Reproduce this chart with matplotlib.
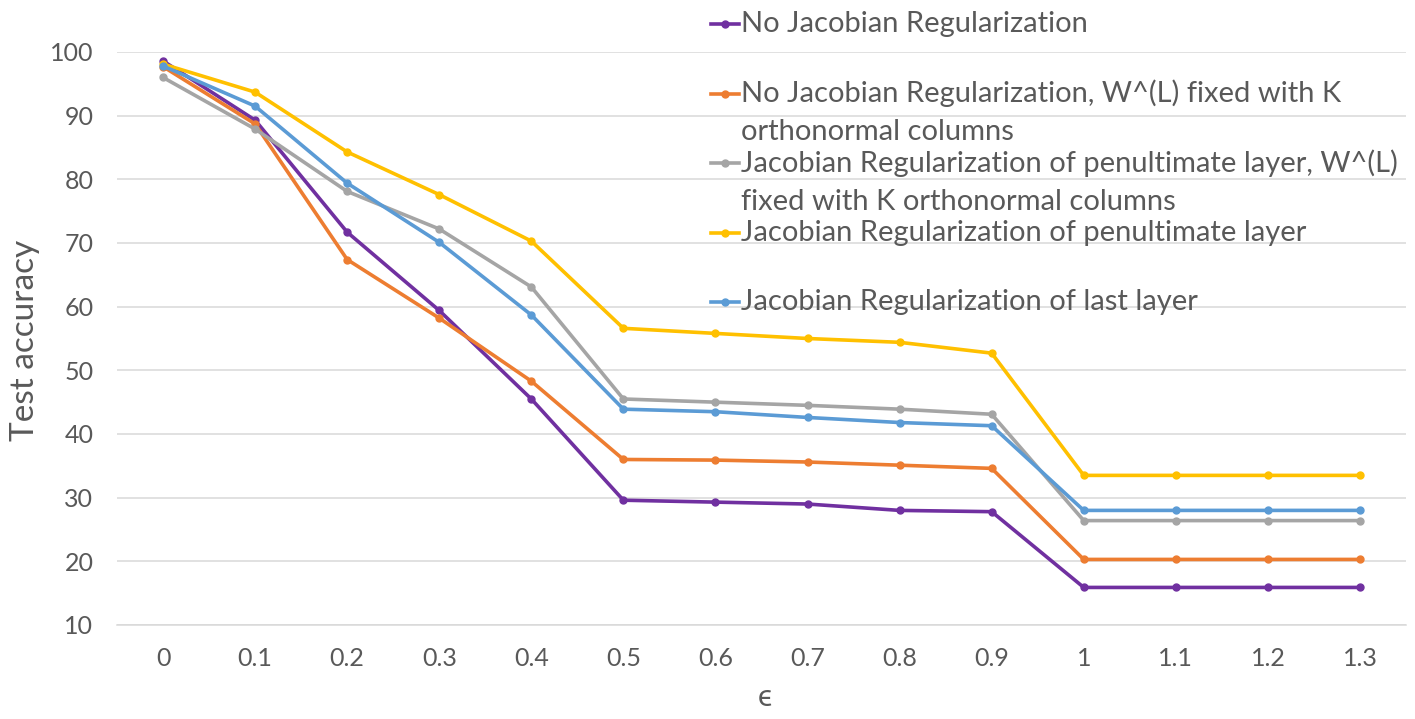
import matplotlib
matplotlib.use('Agg')
import matplotlib.pyplot as plt
from matplotlib.lines import Line2D

eps_labels = ['0', '0.1', '0.2', '0.3', '0.4', '0.5', '0.6', '0.7', '0.8', '0.9', '1', '1.1', '1.2', '1.3']

no_jac = [98.6, 89.3, 71.7, 59.4, 45.5, 29.6, 29.3, 29.0, 28.0, 27.8, 15.9, 15.9, 15.9, 15.9]
no_jac_fixed = [97.7, 88.7, 67.4, 58.2, 48.3, 36.0, 35.9, 35.6, 35.1, 34.6, 20.3, 20.3, 20.3, 20.3]
jac_pen_fixed = [96.0, 87.9, 78.1, 72.2, 63.1, 45.5, 45.0, 44.5, 43.9, 43.1, 26.4, 26.4, 26.4, 26.4]
jac_pen = [98.1, 93.7, 84.3, 77.6, 70.3, 56.6, 55.8, 55.0, 54.4, 52.7, 33.5, 33.5, 33.5, 33.5]
jac_last = [97.8, 91.5, 79.4, 70.1, 58.7, 43.9, 43.5, 42.6, 41.8, 41.3, 28.0, 28.0, 28.0, 28.0]

series_labels = [
    "No Jacobian Regularization",
    "No Jacobian Regularization, W^(L) fixed with K\northonormal columns",
    "Jacobian Regularization of penultimate layer, W^(L)\nfixed with K orthonormal columns",
    "Jacobian Regularization of penultimate layer",
    "Jacobian Regularization of last layer",
]
series_values = [no_jac, no_jac_fixed, jac_pen_fixed, jac_pen, jac_last]
colors = ['#7030A0', '#ED7D31', '#A5A5A5', '#FFC000', '#5B9BD5']

FONT = ['Lato', 'DejaVu Sans']
TXT = '#595959'
plt.rcParams['font.family'] = FONT

W, H = 1415, 719
fig = plt.figure(figsize=(W / 100, H / 100), dpi=100)
ax = fig.add_axes([117 / W, 1 - 625 / H, (1406 - 117) / W, (625 - 52) / H])

x = list(range(len(eps_labels)))
for vals, c in zip(series_values, colors):
    ax.plot(x, vals, color=c, lw=2.6, marker='o', ms=5, solid_capstyle='round', zorder=3)

ax.set_xlim(-0.5, len(eps_labels) - 0.5)
ax.set_ylim(10, 100)
ax.set_yticks(range(10, 101, 10))
ax.set_xticks(x)
ax.set_xticklabels(eps_labels)
ax.grid(axis='y', color='#D9D9D9', lw=1.1, zorder=0)
ax.set_axisbelow(True)
for s in ['top', 'right', 'left']:
    ax.spines[s].set_visible(False)
ax.spines['bottom'].set_color('#D9D9D9')
ax.spines['bottom'].set_linewidth(1.1)
ax.tick_params(axis='both', length=0, labelsize=18, labelcolor=TXT)
ax.tick_params(axis='y', pad=17)
ax.tick_params(axis='x', pad=16)

ax.set_ylabel('Test accuracy', fontsize=24, color=TXT, va='center')
ax.yaxis.set_label_coords((25 - 117) / 1289, (625 - 340) / 573)
ax.set_xlabel('ϵ', fontsize=22, color=TXT, va='center', family=FONT)
ax.xaxis.set_label_coords((765 - 117) / 1289, (625 - 697) / 573)

# manual Excel-style legend
row0, row_step, line_step = 24, 69.5, 38.5
for i, (lab, c) in enumerate(zip(series_labels, colors)):
    yc = row0 + i * row_step
    fy = 1 - yc / H
    fig.add_artist(Line2D([711 / W, 739 / W], [fy, fy], color=c, lw=2.6,
                          transform=fig.transFigure))
    fig.add_artist(Line2D([725 / W], [fy], color=c, marker='o', ms=5,
                          transform=fig.transFigure))
    for j, line in enumerate(lab.split('\n')):
        fig.text(741 / W, 1 - (yc + j * line_step) / H, line, fontsize=21,
                 color=TXT, va='center', ha='left')

fig.savefig('out.png', dpi=100)
